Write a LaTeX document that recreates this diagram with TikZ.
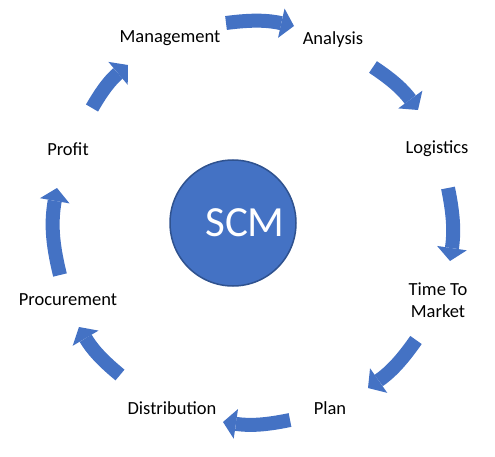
\documentclass[tikz,border=0pt]{standalone}
\usepackage{fontspec}
\setmainfont{Carlito}
\usetikzlibrary{arrows.meta}
\definecolor{scmblue}{HTML}{4472C4}
\definecolor{scmedge}{HTML}{2F528F}

\begin{document}
\begin{tikzpicture}[x=1pt,y=1pt]
  \tikzstyle{every node}=[font=\fontsize{18.5}{22}\selectfont, align=center]
  \tikzstyle{flow}=[draw=scmblue, line width=14pt, -{Triangle[length=13pt,width=30pt,line width=0pt]}]
  \useasboundingbox (0,0) rectangle (495,456);

  \node (scm) [circle, fill=scmblue, draw=scmedge, line width=1.5pt, minimum size=126pt, text=white, font=\fontsize{43}{50}\selectfont] at (233,233) {\hspace*{24pt}SCM};

  \node (management) at (170,418) {Management};
  \node (analysis) at (333,416) {Analysis};
  \node (logistics) at (437,307) {Logistics};
  \node (ttm) at (438,156) {Time To\\Market};
  \node (plan) at (330,48) {Plan};
  \node (distribution) at (172,48) {Distribution};
  \node (procurement) at (68,156) {Procurement};
  \node (profit) at (68,307) {Profit};

  \coordinate (a1) at (226,433);
  \coordinate (b1) at (294,430);
  \coordinate (a2) at (373,389);
  \coordinate (b2) at (418,346);
  \coordinate (a3) at (448,268);
  \coordinate (b3) at (450,195);
  \coordinate (a4) at (416,116);
  \coordinate (b4) at (368,68);
  \coordinate (a5) at (290,36);
  \coordinate (b5) at (223,34);
  \coordinate (a6) at (120,81);
  \coordinate (b6) at (79,129);
  \coordinate (a7) at (60,181);
  \coordinate (b7) at (57,268);
  \coordinate (a8) at (92,348);
  \coordinate (b8) at (128,391);

  \draw [flow] (a1) to [bend left=10] (b1);
  \draw [flow] (a2) to [bend left=10] (b2);
  \draw [flow] (a3) to [bend left=10] (b3);
  \draw [flow] (a4) to [bend left=10] (b4);
  \draw [flow] (a5) to [bend left=10] (b5);
  \draw [flow] (a6) to [bend left=10] (b6);
  \draw [flow] (a7) to [bend left=12] (b7);
  \draw [flow] (a8) to [bend left=10] (b8);

\end{tikzpicture}
\end{document}
